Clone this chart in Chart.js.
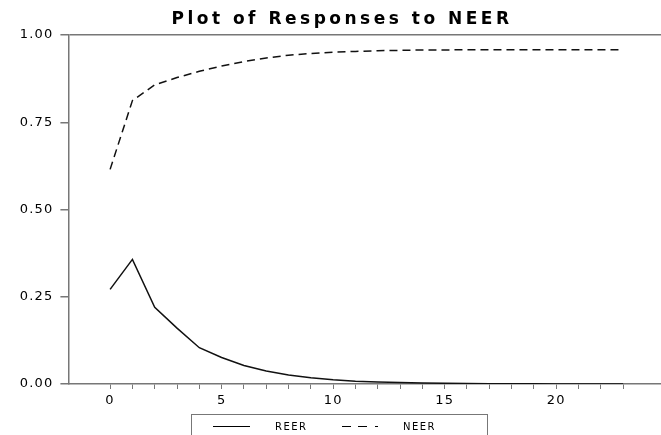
<!DOCTYPE html>
<html>
<head>
<meta charset="utf-8">
<script src="https://cdn.jsdelivr.net/npm/chart.js@4.4.0/dist/chart.umd.min.js"></script>
<style>
  body { margin: 0; background: #fff; }
  #wrap { position: relative; width: 661px; height: 435px; overflow: hidden; }
  #legend { position: absolute; left: 191px; top: 414px; width: 295px; height: 30px;
            border: 1px solid #777; border-bottom: none; }
</style>
</head>
<body>
<div id="wrap">
  <canvas id="chart" width="661" height="435"></canvas>
  <div id="legend">
    <svg width="295" height="30" style="font-family:'DejaVu Sans';font-size:10px;letter-spacing:1.5px">
      <line x1="21" y1="11.5" x2="58" y2="11.5" stroke="#000" stroke-width="1.2"/>
      <text x="83" y="15">REER</text>
      <line x1="150" y1="11.5" x2="186" y2="11.5" stroke="#000" stroke-width="1.2" stroke-dasharray="9,7,9,8,3,100"/>
      <text x="211" y="15">NEER</text>
    </svg>
  </div>
</div>
<script>
// impulse responses, steps 0..23
var steps = [];
for (var i = 0; i < 24; i++) steps.push(i);

var REER = [0.271, 0.357, 0.220, 0.160, 0.104, 0.076, 0.053, 0.037, 0.026, 0.018,
            0.012, 0.008, 0.006, 0.004, 0.003, 0.002, 0.0015, 0.001, 0.0007, 0.0005,
            0.0003, 0.0002, 0.0002, 0.0001];
var NEER = [0.615, 0.812, 0.857, 0.878, 0.896, 0.911, 0.924, 0.934, 0.942, 0.947,
            0.951, 0.953, 0.955, 0.956, 0.957, 0.957, 0.958, 0.958, 0.958, 0.958,
            0.958, 0.958, 0.958, 0.958];

var TITLE = 'Plot of Responses to NEER';
var AXIS_GRAY = '#777';

function toXY(arr){
    return arr.map(function(v, i){ return {x: steps[i], y: v}; });
}

// slightly wider tick lettering like the original
const spacingPlugin = {
    id: 'spacing',
    beforeDraw(chart){
        chart.ctx.letterSpacing = '1.2px';
    }
};

// title drawn by hand so letter spacing can be used
const titlePlugin = {
    id: 'spacedTitle',
    afterDraw(chart){
        const c = chart.ctx;
        c.save();
        c.font = 'bold 17px "DejaVu Sans"';
        c.letterSpacing = '3.5px';
        c.fillStyle = '#000';
        c.textAlign = 'center';
        c.textBaseline = 'alphabetic';
        c.fillText(TITLE, 342, 24);
        c.restore();
    }
};

const ctx = document.getElementById('chart').getContext('2d');
const respChart = new Chart(ctx, {
    type: 'line',
    data: {
        datasets: [
            {
                label: 'REER',
                data: toXY(REER),
                borderColor: '#111',
                borderWidth: 1.5,
                pointRadius: 0,
                tension: 0,
                fill: false
            },
            {
                label: 'NEER',
                data: toXY(NEER),
                borderColor: '#111',
                borderWidth: 1.5,
                borderDash: [8, 5],
                pointRadius: 0,
                tension: 0,
                fill: false
            }
        ]
    },
    options: {
        responsive: false,
        animation: false,
        layout: { padding: { top: 35, left: 0, right: 0, bottom: 0 } },
        plugins: {
            legend: { display: false },
            title: { display: false },
            tooltip: { enabled: false }
        },
        scales: {
            x: {
                type: 'linear',
                min: -1.87,
                max: 24.7,
                afterBuildTicks: function(scale){
                    scale.ticks = steps.map(function(v){ return {value: v}; });
                },
                afterFit: function(scale){ scale.height = 51; },
                ticks: {
                    autoSkip: false,
                    maxRotation: 0,
                    padding: 4,
                    color: '#000',
                    font: { family: 'DejaVu Sans', size: 13 },
                    callback: function(v){ return v % 5 === 0 ? String(v) : ''; }
                },
                grid: { drawOnChartArea: false, tickLength: 5, tickColor: AXIS_GRAY },
                border: { color: AXIS_GRAY, width: 1.5 }
            },
            y: {
                min: 0,
                max: 1,
                afterFit: function(scale){ scale.width = 68.4; },
                ticks: {
                    stepSize: 0.25,
                    padding: 7,
                    color: '#000',
                    font: { family: 'DejaVu Sans', size: 13 },
                    callback: function(v){ return v.toFixed(2); }
                },
                grid: {
                    tickLength: 8,
                    tickColor: AXIS_GRAY,
                    lineWidth: 1.5,
                    color: function(c){ return c.tick && c.tick.value === 1 ? AXIS_GRAY : 'rgba(0,0,0,0)'; }
                },
                border: { color: AXIS_GRAY, width: 1.5 }
            }
        }
    },
    plugins: [spacingPlugin, titlePlugin]
});
</script>
</body>
</html>
